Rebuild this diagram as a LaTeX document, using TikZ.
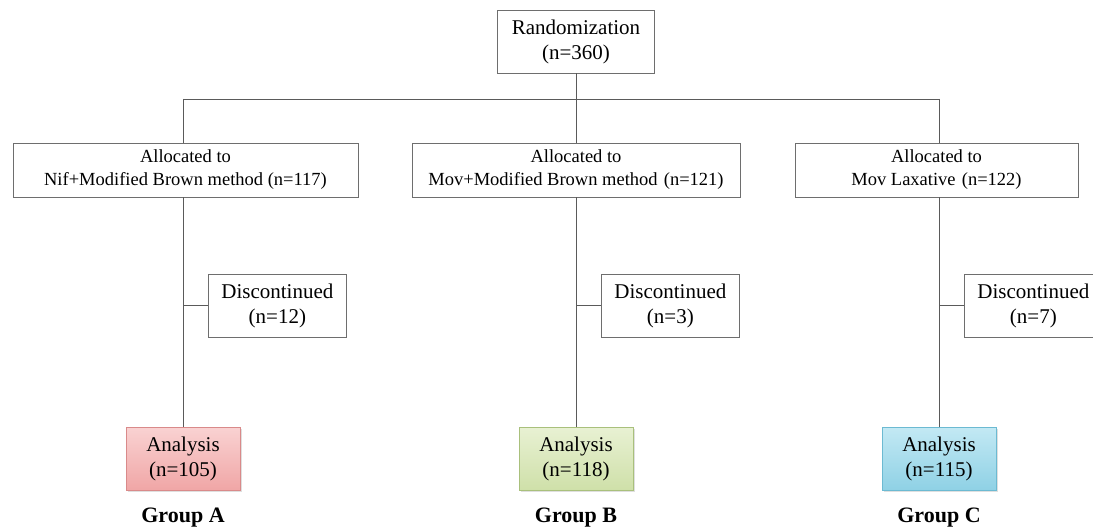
\documentclass[tikz,border=0pt]{standalone}
\usepackage{fontspec}
\setmainfont{Liberation Serif}
\usetikzlibrary{shadows}
\definecolor{linegray}{HTML}{5A5A5A}
\definecolor{boxgray}{HTML}{6E6E6E}
\definecolor{pinktop}{HTML}{F9D2D2}\definecolor{pinkbot}{HTML}{F0A6A6}\definecolor{pinkedge}{HTML}{D98A8A}
\definecolor{greentop}{HTML}{E8F1D3}\definecolor{greenbot}{HTML}{CFE0A9}\definecolor{greenedge}{HTML}{A9C07C}
\definecolor{bluetop}{HTML}{C3E9F4}\definecolor{bluebot}{HTML}{8FD1E5}\definecolor{blueedge}{HTML}{6CBAD2}
\begin{document}
\begin{tikzpicture}[x=1pt, y=-1pt,
    box/.style={draw=boxgray, line width=0.8pt, fill=white, align=center,
      inner sep=0pt, minimum height=63pt, font=\fontsize{21}{25}\selectfont},
    allocbox/.style={box, minimum height=54pt, font=\fontsize{18.5}{23}\selectfont},
    resultbox/.style={box, draw=#1edge, top color=#1top, bottom color=#1bot,
      minimum width=114pt,
      drop shadow={opacity=0.25, shadow xshift=1.5pt, shadow yshift=-2pt}},
    grouplabel/.style={font=\fontsize{22}{26}\selectfont\bfseries},
    link/.style={draw=linegray, line width=0.9pt}]
  \clip (0,0) rectangle (1093,532);
  \fill[white] (0,0) rectangle (1093,532);
  \node[box, minimum width=157pt] (rand) at (576,41.5) {Randomization\\(n=360)};
  \coordinate (barM) at (576,99);
  \foreach \g/\x/\ax/\aw/\at/\dn/\an/\c in {
      A/183/185.5/345/{Nif+Modified Brown method (n=117)}/12/105/pink,
      B/576/576/328/{Mov+Modified Brown method\,\,(n=121)}/3/118/green,
      C/939/936.5/283/{Mov Laxative\,\,(n=122)}/7/115/blue} {
    \coordinate (top\g) at (\x,99);
    \node[allocbox, minimum width=\aw pt] (alloc\g) at (\ax,170) {Allocated to\\\at};
    \node[box, minimum width=138pt, anchor=west] (disc\g) at (\x+25,305.5) {Discontinued\\(n=\dn)};
    \node[resultbox=\c] (ana\g) at (\x,458.5) {Analysis\\(n=\an)};
    \node[grouplabel] (grp\g) at (\x,518) {Group \g};
    \coordinate (split\g) at (\x,305.5);
    \draw[link] (top\g) -- (alloc\g.north -| top\g);
    \draw[link] (alloc\g.south -| top\g) -- (ana\g.north);
    \draw[link] (split\g) -- (disc\g.west);
  }
  \draw[link] (topA) -- (topC);
  \draw[link] (rand.south) -- (barM);
\end{tikzpicture}
\end{document}
